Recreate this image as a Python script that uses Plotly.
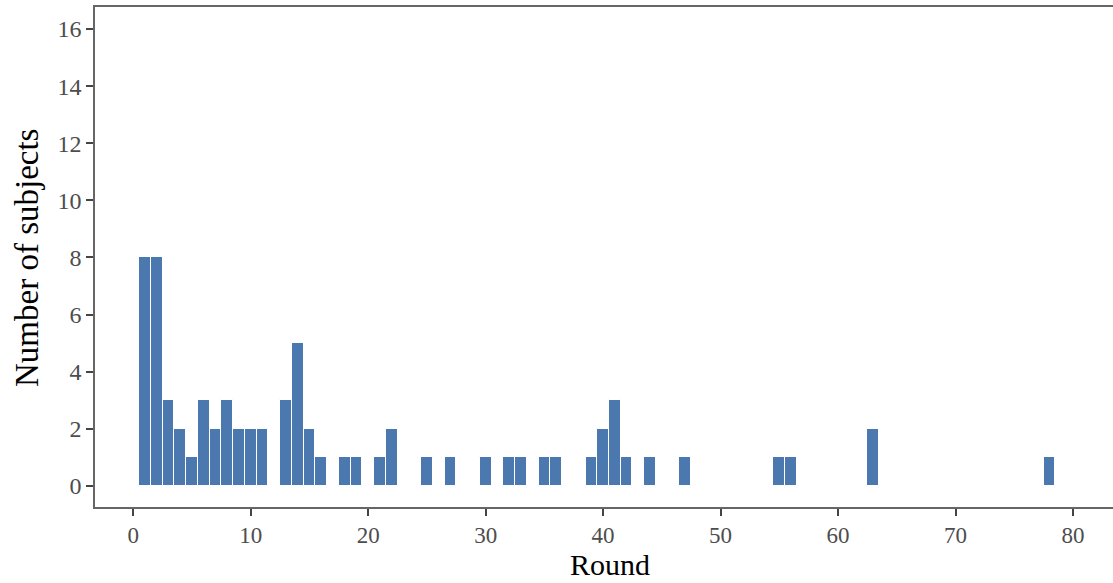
import plotly.graph_objects as go

rounds = [1, 2, 3, 4, 5, 6, 7, 8, 9, 10, 11, 13, 14, 15, 16, 18, 19, 21, 22,
          25, 27, 30, 32, 33, 35, 36, 39, 40, 41, 42, 44, 47, 55, 56, 63, 78]
subjects = [8, 8, 3, 2, 1, 3, 2, 3, 2, 2, 2, 3, 5, 2, 1, 1, 1, 1, 2,
            1, 1, 1, 1, 1, 1, 1, 1, 2, 3, 1, 1, 1, 1, 1, 2, 1]
x_ticks = [0, 10, 20, 30, 40, 50, 60, 70, 80]
y_ticks = [0, 2, 4, 6, 8, 10, 12, 14, 16]

W, H = 1113, 583
L, R, T, B = 95, 0, 7, 76
pw = W - L - R
ph = H - T - B

fig = go.Figure()
fig.add_trace(go.Bar(
    x=rounds, y=subjects, width=1.0,
    marker=dict(color="#4b79af", line=dict(color="white", width=1)),
))

font_serif = "Liberation Serif, Times New Roman, serif"
axis_col = "#666666"
fig.update_layout(
    width=W, height=H,
    margin=dict(l=L, r=R, t=T, b=B),
    paper_bgcolor="white", plot_bgcolor="white",
    showlegend=False,
    bargap=0,
    font=dict(family=font_serif),
    xaxis=dict(
        range=[-3.25, 83.4], tickvals=x_ticks, ticktext=[str(v) for v in x_ticks],
        showgrid=False, zeroline=False, showline=True, linecolor=axis_col, linewidth=1.5,
        mirror=True, ticks="outside", ticklen=7, tickwidth=2, tickcolor="#444444",
        tickfont=dict(size=23, color="#4d4d4d", family=font_serif),
    ),
    yaxis=dict(
        range=[-0.74, 16.77], tickvals=y_ticks, ticktext=[str(v) for v in y_ticks],
        showgrid=False, zeroline=False, showline=True, linecolor=axis_col, linewidth=1.5,
        ticks="outside", ticklen=7, tickwidth=2, tickcolor="#444444",
        tickfont=dict(size=24, color="#4d4d4d", family=font_serif),
    ),
    annotations=[
        dict(text="Round", xref="paper", yref="paper",
             x=(610 - L) / pw, y=-(564 - (T + ph)) / ph,
             xanchor="center", yanchor="middle", showarrow=False, borderpad=0,
             font=dict(size=30, color="black", family=font_serif)),
        dict(text="Number of subjects", xref="paper", yref="paper",
             x=(27 - L) / pw, y=1 - (258 - T) / ph, textangle=-90,
             xanchor="center", yanchor="middle", showarrow=False, borderpad=0,
             font=dict(size=33, color="black", family=font_serif)),
    ],
)

fig.write_html("out.html", config={"displayModeBar": False})

with open("out.html", "r", encoding="utf-8") as f:
    html = f.read()
html = html.replace("<body>", "<body style=\"margin:0;padding:0;overflow:hidden\">", 1)
with open("out.html", "w", encoding="utf-8") as f:
    f.write(html)
